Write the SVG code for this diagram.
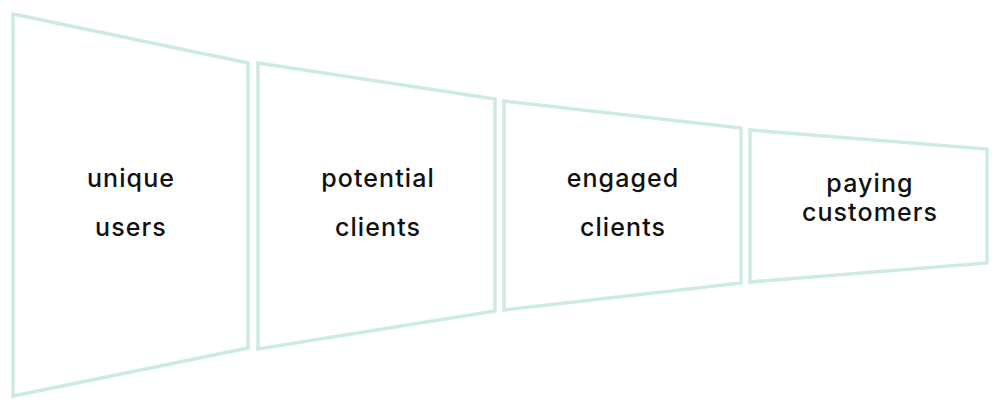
<svg xmlns="http://www.w3.org/2000/svg" width="1002" height="414" viewBox="0 0 1002 414">
<style>
.stage{fill:#ffffff;stroke:#cdebe1;stroke-width:3.5;stroke-linejoin:miter}
.lbl{font-family:Inter,"Liberation Sans",sans-serif;font-size:25px;font-weight:500;fill:#111111;text-anchor:middle;letter-spacing:1.1px}
</style>
<rect width="1002" height="414" fill="#ffffff"/>
<g id="unique-users">
<polygon class="stage" points="13,14 248,63 248,348 13,396"/>
<text class="lbl" x="131" y="187">unique</text>
<text class="lbl" x="131" y="236">users</text>
</g>
<g id="potential-clients">
<polygon class="stage" points="258,63 495,99 495,311 258,349"/>
<text class="lbl" x="378" y="187">potential</text>
<text class="lbl" x="378" y="236">clients</text>
</g>
<g id="engaged-clients">
<polygon class="stage" points="504,101 741,128 741,283 504,310"/>
<text class="lbl" x="623" y="187">engaged</text>
<text class="lbl" x="623" y="236">clients</text>
</g>
<g id="paying-customers">
<polygon class="stage" points="750,130 987,149 987,263 750,282"/>
<text class="lbl" x="870" y="192">paying</text>
<text class="lbl" x="870" y="221">customers</text>
</g>
<g id="connectors"></g>
</svg>
